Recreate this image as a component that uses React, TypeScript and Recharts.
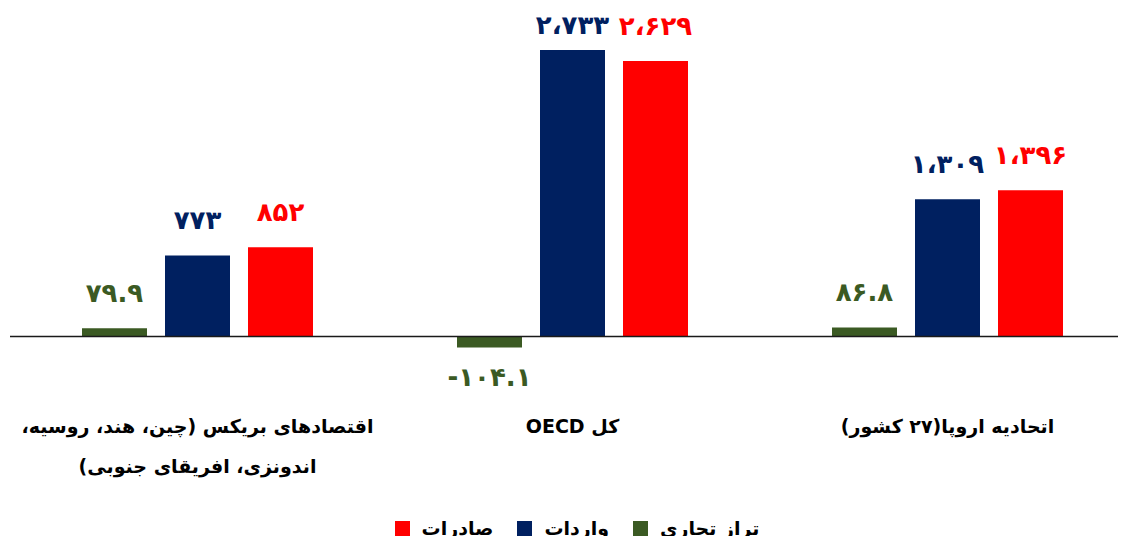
import React from 'react';
import { BarChart, Bar, XAxis, YAxis, Legend, LabelList, ReferenceLine } from 'recharts';

const categoryLines: string[][] = [
  ['اقتصادهای بریکس (چین، هند، روسیه،', 'اندونزی، افریقای جنوبی)'],
  ['کل OECD'],
  ['اتحادیه اروپا(۲۷ کشور)'],
];
const categoryKeys = ['brics', 'oecd', 'eu'];
const balance = [79.9, -104.1, 86.8];
const imports = [773, 2733, 1309];
const exportsVals = [852, 2629, 1396];

const seriesNames = { balance: 'تراز تجاری', imports: 'واردات', exports: 'صادرات' };
const colors = { balance: '#3B5A23', imports: '#002060', exports: '#FF0000' };

const data = categoryKeys.map((k, i) => ({
  key: k,
  balance: balance[i],
  imports: imports[i],
  exports: exportsVals[i],
}));

const FONT = '"DejaVu Sans", sans-serif';
const faDigits = '۰۱۲۳۴۵۶۷۸۹';
const toFa = (s: string) => s.replace(/[0-9]/g, (d) => faDigits[Number(d)]);
const fmtInt = (v: number) => toFa(Math.round(v).toString().replace(/\B(?=(\d{3})+(?!\d))/g, '،'));
const fmtDec = (v: number) => toFa(v.toFixed(1));

const makeLabel = (color: string, fmt: (v: number) => string) => (props: any) => {
  const { x, y, width, height, value } = props;
  const top = Math.min(y, y + height);
  const bottom = Math.max(y, y + height);
  let cy = value >= 0 ? top - 35 : bottom + 30;
  cy = Math.max(cy, 17);
  return (
    <text
      x={x + width / 2}
      y={cy}
      textAnchor="middle"
      dominantBaseline="central"
      fill={color}
      fontFamily={FONT}
      fontWeight="bold"
      fontSize={26}
      direction="ltr"
    >
      {fmt(value)}
    </text>
  );
};

const CategoryTick = (props: any) => {
  const { x, y, payload } = props;
  const idx = categoryKeys.indexOf(payload.value);
  const lines = categoryLines[idx] || [];
  return (
    <g>
      {lines.map((ln, i) => (
        <text
          key={i}
          x={x}
          y={y + 57 + i * 40}
          textAnchor="middle"
          fill="#000"
          fontFamily={FONT}
          fontWeight="bold"
          fontSize={19}
          direction="rtl"
          style={{ unicodeBidi: 'embed' }}
        >
          {ln}
        </text>
      ))}
    </g>
  );
};

const legendItems = [
  { name: seriesNames.exports, color: colors.exports },
  { name: seriesNames.imports, color: colors.imports },
  { name: seriesNames.balance, color: colors.balance },
];

const LegendContent = () => (
  <div
    style={{
      display: 'flex',
      justifyContent: 'center',
      alignItems: 'center',
      paddingLeft: 9,
      paddingTop: 9,
      fontFamily: FONT,
      fontWeight: 'bold',
      fontSize: 19,
      lineHeight: '22px',
      color: '#000',
    }}
  >
    {legendItems.map((it) => (
      <div key={it.name} style={{ display: 'flex', alignItems: 'center', margin: '0 12px' }}>
        <span style={{ display: 'inline-block', width: 15, height: 15, background: it.color, marginRight: 12 }} />
        <span style={{ direction: 'rtl' }}>{it.name}</span>
      </div>
    ))}
  </div>
);

export default function App() {
  return (
    <div style={{ width: 1118, height: 528 }}>
      <BarChart
        width={1118}
        height={528}
        data={data}
        margin={{ top: 14, right: -9, left: 2, bottom: 0 }}
        barSize={65}
        barGap={18}
      >
        <XAxis
          dataKey="key"
          axisLine={false}
          tickLine={false}
          height={140}
          interval={0}
          tick={<CategoryTick />}
        />
        <YAxis hide domain={[-300, 3000]} />
        <ReferenceLine y={0} stroke="#1a1a1a" strokeWidth={1.5} />
        <Bar dataKey="balance" name={seriesNames.balance} fill={colors.balance} isAnimationActive={false}>
          <LabelList dataKey="balance" content={makeLabel(colors.balance, fmtDec)} />
        </Bar>
        <Bar dataKey="imports" name={seriesNames.imports} fill={colors.imports} isAnimationActive={false}>
          <LabelList dataKey="imports" content={makeLabel(colors.imports, fmtInt)} />
        </Bar>
        <Bar dataKey="exports" name={seriesNames.exports} fill={colors.exports} isAnimationActive={false}>
          <LabelList dataKey="exports" content={makeLabel(colors.exports, fmtInt)} />
        </Bar>
        <Legend verticalAlign="bottom" height={28} content={<LegendContent />} />
      </BarChart>
    </div>
  );
}
